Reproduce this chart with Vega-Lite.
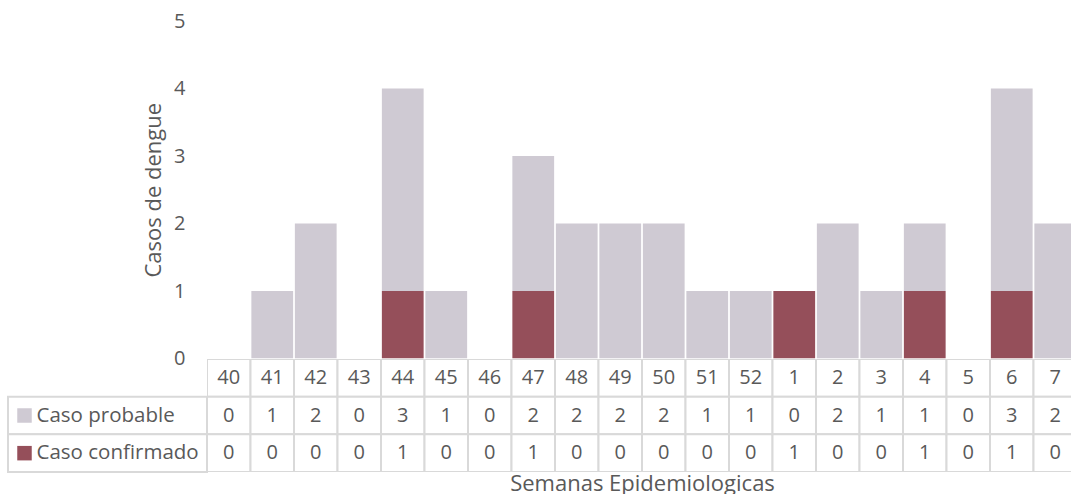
{
  "$schema": "https://vega.github.io/schema/vega-lite/v6.json",
  "padding": {"left": 7, "top": 11, "right": 0, "bottom": 0},
  "background": "white",
  "config": {"view": {"stroke": null}, "font": "Open Sans"},
  "datasets": {
    "cases": [
      {"semana": "40", "Caso probable": 0, "Caso confirmado": 0},
      {"semana": "41", "Caso probable": 1, "Caso confirmado": 0},
      {"semana": "42", "Caso probable": 2, "Caso confirmado": 0},
      {"semana": "43", "Caso probable": 0, "Caso confirmado": 0},
      {"semana": "44", "Caso probable": 3, "Caso confirmado": 1},
      {"semana": "45", "Caso probable": 1, "Caso confirmado": 0},
      {"semana": "46", "Caso probable": 0, "Caso confirmado": 0},
      {"semana": "47", "Caso probable": 2, "Caso confirmado": 1},
      {"semana": "48", "Caso probable": 2, "Caso confirmado": 0},
      {"semana": "49", "Caso probable": 2, "Caso confirmado": 0},
      {"semana": "50", "Caso probable": 2, "Caso confirmado": 0},
      {"semana": "51", "Caso probable": 1, "Caso confirmado": 0},
      {"semana": "52", "Caso probable": 1, "Caso confirmado": 0},
      {"semana": "1", "Caso probable": 0, "Caso confirmado": 1},
      {"semana": "2", "Caso probable": 2, "Caso confirmado": 0},
      {"semana": "3", "Caso probable": 1, "Caso confirmado": 0},
      {"semana": "4", "Caso probable": 1, "Caso confirmado": 1},
      {"semana": "5", "Caso probable": 0, "Caso confirmado": 0},
      {"semana": "6", "Caso probable": 3, "Caso confirmado": 1},
      {"semana": "7", "Caso probable": 2, "Caso confirmado": 0}
    ],
    "filas": [
      {"fila": "Caso probable"},
      {"fila": "Caso confirmado"}
    ]
  },
  "columns": 2,
  "spacing": 0,
  "bounds": "flush",
  "align": "each",
  "concat": [
    {
      "width": 199,
      "height": 337.5,
      "data": {"values": []},
      "mark": {"type": "point", "opacity": 0},
      "encoding": {}
    },
    {
      "width": 864,
      "height": 337.5,
      "data": {"name": "cases"},
      "transform": [{"fold": ["Caso probable", "Caso confirmado"], "as": ["serie", "casos"]}],
      "mark": {"type": "bar", "clip": true},
      "encoding": {
        "x": {
          "field": "semana", "type": "nominal",
          "scale": {"domain": ["40","41","42","43","44","45","46","47","48","49","50","51","52","1","2","3","4","5","6","7"], "range": [0, 870], "paddingInner": 0.04, "paddingOuter": 0.02},
          "axis": null
        },
        "y": {
          "field": "casos", "type": "quantitative", "stack": "zero",
          "scale": {"domain": [0, 5], "nice": false},
          "axis": {"values": [0, 1, 2, 3, 4, 5], "grid": false, "domain": false, "ticks": false, "labelPadding": 22, "labelFontSize": 20, "labelColor": "#595959", "title": "Casos de dengue", "titleFontSize": 22, "titleFontWeight": "normal", "titleColor": "#595959", "titlePadding": 8}
        },
        "color": {
          "field": "serie", "type": "nominal",
          "scale": {"domain": ["Caso probable", "Caso confirmado"], "range": ["#cfcad3", "#954f5a"]},
          "legend": null
        },
        "order": {"field": "serie", "sort": "ascending"}
      }
    },
    {
      "width": 199,
      "height": 113,
      "data": {"name": "filas"},
      "encoding": {
        "y": {"field": "fila", "type": "nominal", "scale": {"domain": ["semana", "Caso probable", "Caso confirmado"], "paddingInner": 0, "paddingOuter": 0}, "axis": null}
      },
      "layer": [
        {"mark": {"type": "rect", "fill": "white", "stroke": "#d9d9d9", "strokeWidth": 2}},
        {
          "mark": {"type": "point", "shape": "square", "filled": true, "size": 210, "xOffset": -83, "opacity": 1},
          "encoding": {
            "color": {"field": "fila", "type": "nominal", "scale": {"domain": ["Caso probable", "Caso confirmado"], "range": ["#cfcad3", "#954f5a"]}, "legend": null}
          }
        },
        {
          "mark": {"type": "text", "align": "left", "baseline": "middle", "dx": -71, "fontSize": 20.5, "color": "#595959"},
          "encoding": {"text": {"field": "fila", "type": "nominal"}}
        }
      ]
    },
    {
      "width": 864,
      "height": 113,
      "data": {"name": "cases"},
      "transform": [{"fold": ["semana", "Caso probable", "Caso confirmado"], "as": ["fila", "valor"]}],
      "encoding": {
        "x": {
          "field": "semana", "type": "nominal",
          "scale": {"domain": ["40","41","42","43","44","45","46","47","48","49","50","51","52","1","2","3","4","5","6","7"], "range": [0, 870], "paddingInner": 0, "paddingOuter": 0},
          "axis": {"labels": false, "ticks": false, "domain": false, "tickSize": 0, "title": "Semanas Epidemiologicas", "titleFontSize": 22, "titleFontWeight": "normal", "titleColor": "#595959", "titleBaseline": "alphabetic", "titlePadding": 18}
        },
        "y": {"field": "fila", "type": "nominal", "scale": {"domain": ["semana", "Caso probable", "Caso confirmado"], "paddingInner": 0, "paddingOuter": 0}, "axis": null}
      },
      "layer": [
        {"mark": {"type": "rect", "fill": "white", "stroke": "#d9d9d9", "strokeWidth": 2, "clip": true}},
        {
          "mark": {"type": "text", "baseline": "middle", "fontSize": 20, "color": "#595959", "clip": true},
          "encoding": {"text": {"field": "valor", "type": "nominal"}}
        }
      ]
    }
  ]
}
